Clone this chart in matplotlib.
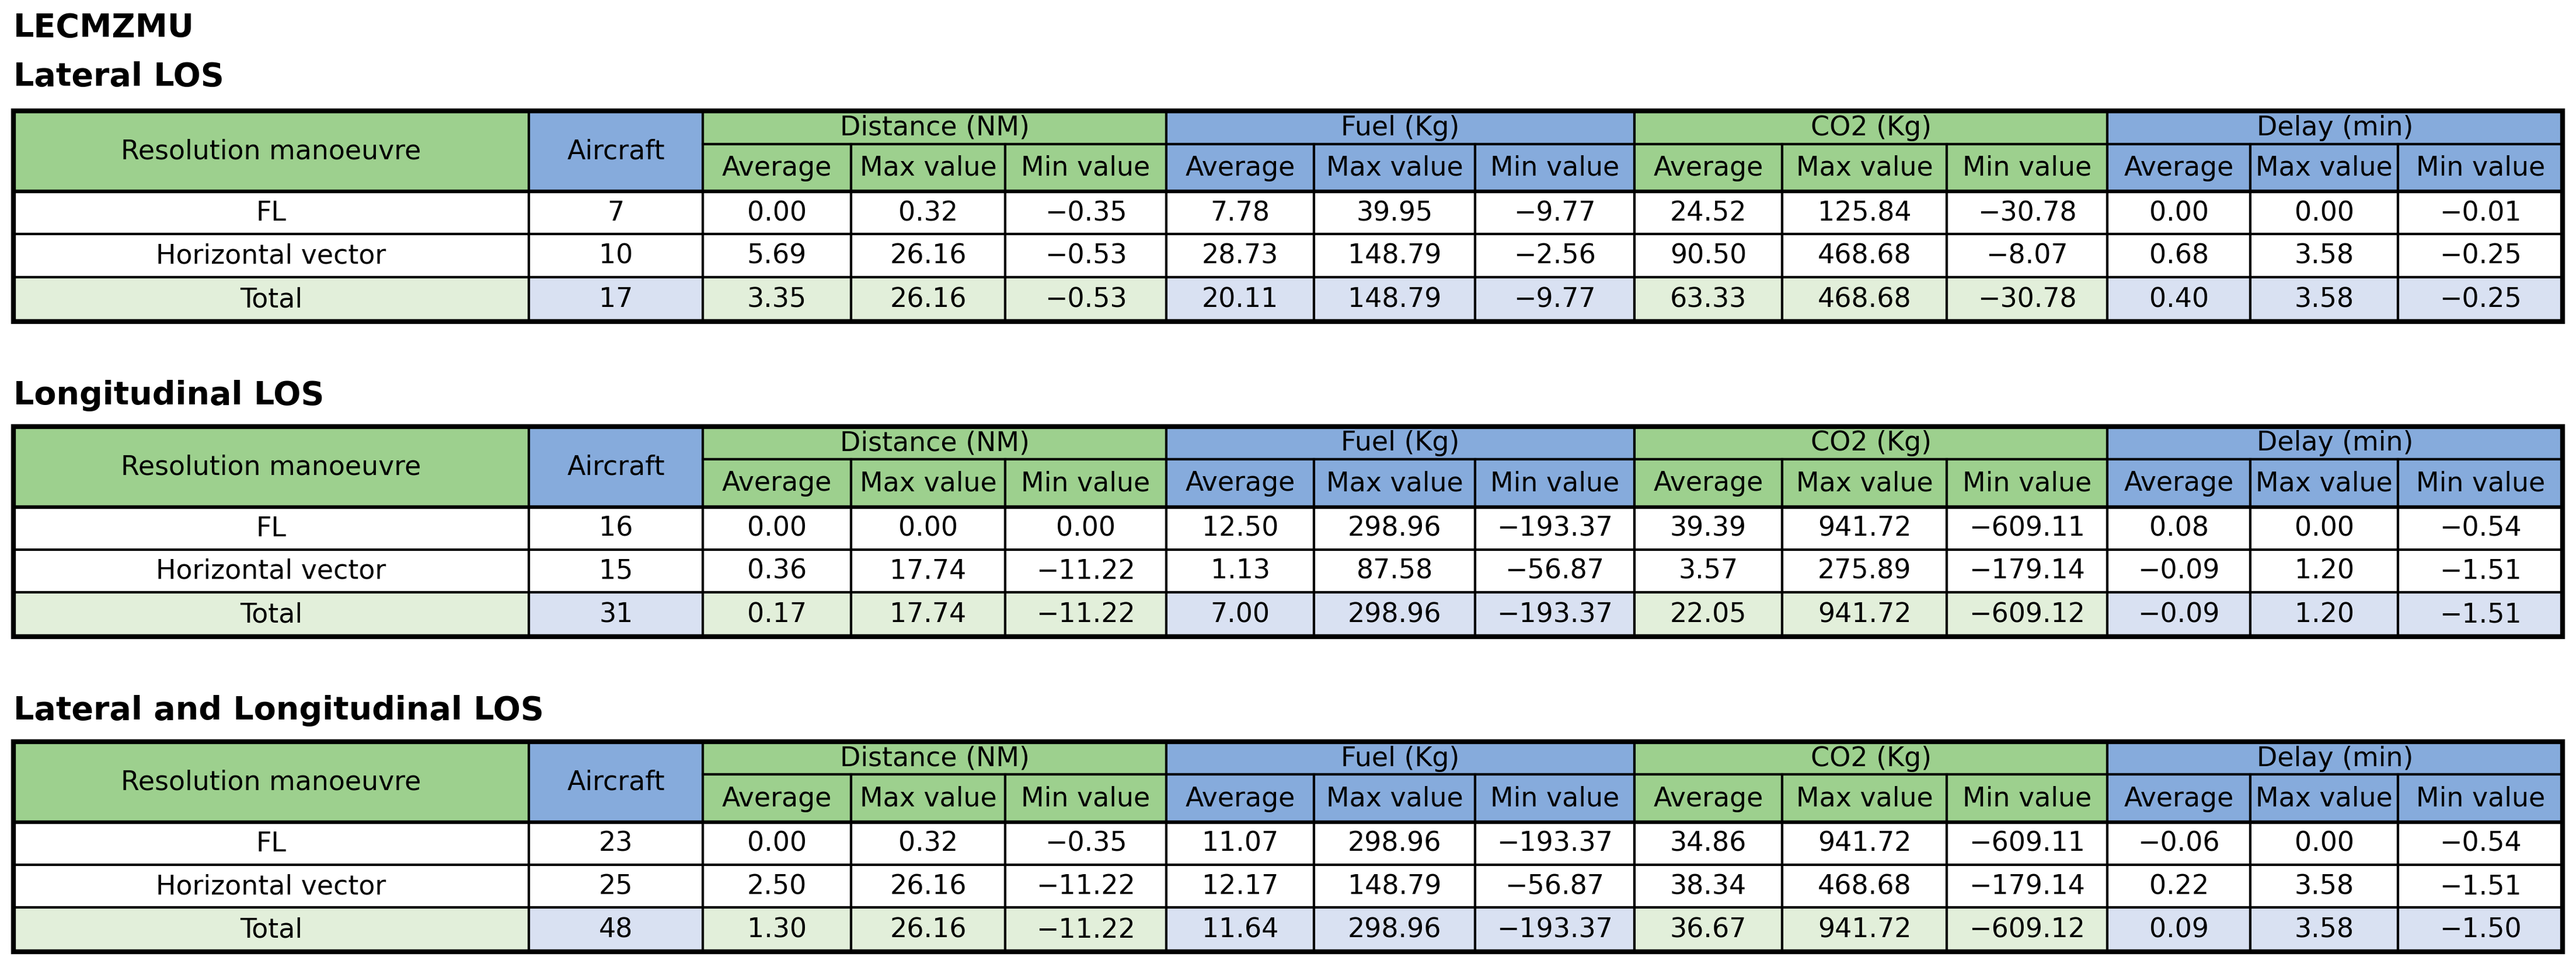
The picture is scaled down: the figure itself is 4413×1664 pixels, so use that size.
import matplotlib
matplotlib.use("Agg")
import matplotlib.pyplot as plt
from matplotlib.patches import Rectangle

# ── Data ─────────────────────────────────────────────────────────────────────
station = "LECMZMU"
section_titles = ["Lateral LOS", "Longitudinal LOS", "Lateral and Longitudinal LOS"]
groups = ["Distance (NM)", "Fuel (Kg)", "CO2 (Kg)", "Delay (min)"]
subheads = ["Average", "Max value", "Min value"]
row_names = ["FL", "Horizontal vector", "Total"]

aircraft = [[7, 10, 17], [16, 15, 31], [23, 25, 48]]
values = [
    [["0.00", "0.32", "−0.35", "7.78", "39.95", "−9.77", "24.52", "125.84", "−30.78", "0.00", "0.00", "−0.01"],
     ["5.69", "26.16", "−0.53", "28.73", "148.79", "−2.56", "90.50", "468.68", "−8.07", "0.68", "3.58", "−0.25"],
     ["3.35", "26.16", "−0.53", "20.11", "148.79", "−9.77", "63.33", "468.68", "−30.78", "0.40", "3.58", "−0.25"]],
    [["0.00", "0.00", "0.00", "12.50", "298.96", "−193.37", "39.39", "941.72", "−609.11", "0.08", "0.00", "−0.54"],
     ["0.36", "17.74", "−11.22", "1.13", "87.58", "−56.87", "3.57", "275.89", "−179.14", "−0.09", "1.20", "−1.51"],
     ["0.17", "17.74", "−11.22", "7.00", "298.96", "−193.37", "22.05", "941.72", "−609.12", "−0.09", "1.20", "−1.51"]],
    [["0.00", "0.32", "−0.35", "11.07", "298.96", "−193.37", "34.86", "941.72", "−609.11", "−0.06", "0.00", "−0.54"],
     ["2.50", "26.16", "−11.22", "12.17", "148.79", "−56.87", "38.34", "468.68", "−179.14", "0.22", "3.58", "−1.51"],
     ["1.30", "26.16", "−11.22", "11.64", "298.96", "−193.37", "36.67", "941.72", "−609.12", "0.09", "3.58", "−1.50"]],
]

# ── Layout (pixels) ──────────────────────────────────────────────────────────
W, H = 4413, 1665
S = 2.814
col_x = [v * S for v in [8, 322, 428, 518, 612, 710, 800, 898, 995, 1085, 1185, 1283, 1370, 1460, 1560]]
table_tops = [68, 260, 452]
row_offs = [0, 20, 49, 75, 101, 128]
title_y = [47, 241, 433]

GREEN, BLUE = "#9dd08e", "#86abdc"
LGREEN, LBLUE = "#e2efda", "#d9e1f2"
group_cols = [GREEN, BLUE, GREEN, BLUE]
FONT = ["Liberation Sans Narrow", "DejaVu Sans"]
FS = 33
INNER, OUTER = 3.0, 6.0

fig = plt.figure(figsize=(W / 100, H / 100), dpi=100)
ax = fig.add_axes([0, 0, 1, 1])
ax.set_xlim(0, W)
ax.set_ylim(H, 0)
ax.axis("off")


def cell(x0, x1, y0, y1, fc, text, bold=False):
    ax.add_patch(Rectangle((x0, y0), x1 - x0, y1 - y0, facecolor=fc,
                           edgecolor="black", linewidth=INNER, zorder=1))
    ax.text((x0 + x1) / 2, (y0 + y1) / 2, text, ha="center", va="center",
            fontsize=FS, family=FONT, zorder=3)


ax.text(col_x[0], 17 * S, station, ha="left", va="center", fontsize=40,
        fontweight="bold", family=FONT)

for t in range(3):
    ax.text(col_x[0], title_y[t] * S, section_titles[t], ha="left", va="center",
            fontsize=40, fontweight="bold", family=FONT)
    ys = [(table_tops[t] + o) * S for o in row_offs]
    cell(col_x[0], col_x[1], ys[0], ys[2], GREEN, "Resolution manoeuvre")
    cell(col_x[1], col_x[2], ys[0], ys[2], BLUE, "Aircraft")
    for g in range(4):
        c0 = 2 + 3 * g
        cell(col_x[c0], col_x[c0 + 3], ys[0], ys[1], group_cols[g], groups[g])
        for k in range(3):
            cell(col_x[c0 + k], col_x[c0 + k + 1], ys[1], ys[2], group_cols[g], subheads[k])
    for r in range(3):
        total = r == 2
        y0, y1 = ys[r + 2], ys[r + 3]
        cell(col_x[0], col_x[1], y0, y1, LGREEN if total else "white", row_names[r])
        cell(col_x[1], col_x[2], y0, y1, LBLUE if total else "white", str(aircraft[t][r]))
        for c in range(12):
            fc = "white"
            if total:
                fc = LGREEN if (c // 3) % 2 == 0 else LBLUE
            cell(col_x[c + 2], col_x[c + 3], y0, y1, fc, values[t][r][c])
    # thick outline and header separator
    ax.add_patch(Rectangle((col_x[0], ys[0]), col_x[-1] - col_x[0], ys[-1] - ys[0],
                           fill=False, edgecolor="black", linewidth=OUTER, zorder=4))
    ax.plot([col_x[0], col_x[-1]], [ys[2], ys[2]], color="black", lw=OUTER * 0.75, zorder=4)

fig.savefig("out.png", dpi=100, facecolor="white")
